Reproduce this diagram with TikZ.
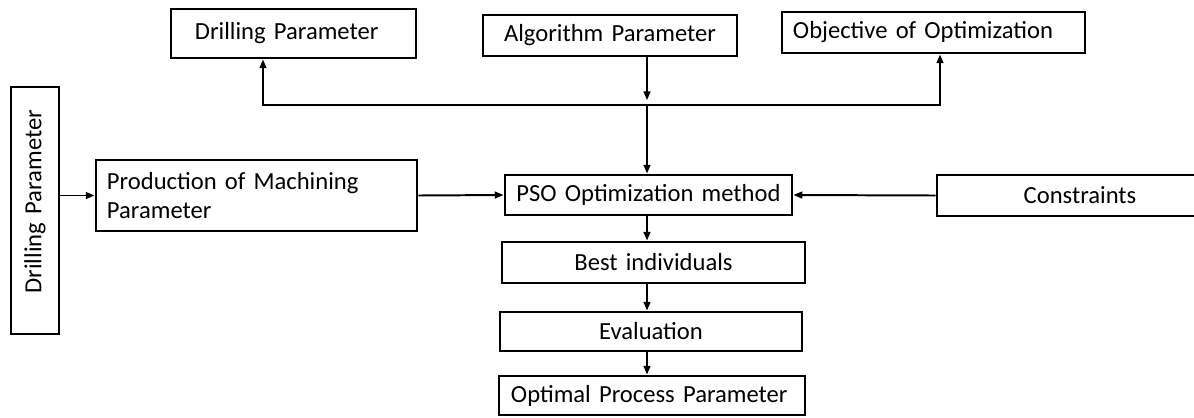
\documentclass[tikz,border=0pt]{standalone}
\usepackage{fontspec}
\setmainfont{Carlito}
\usetikzlibrary{arrows.meta}

\tikzset{
  blk/.style={draw, line width=2pt, inner ysep=0pt, align=center,
    font=\fontsize{17.5}{20}\selectfont},
  arr/.style={line width=1.4pt, -{Triangle[length=2.2mm,width=1.7mm]}},
  ln/.style={line width=1.4pt}
}

\begin{document}
\begin{tikzpicture}[x=0.025cm, y=-0.025cm]
        \useasboundingbox (0,0) rectangle (1194,417);

        % top row
        \node[blk, align=left, inner xsep=0.6cm, text width=4.925cm, minimum height=1.225cm] (drillTop) at (293.5,33.5) {Drilling Parameter};
        \node[blk, text width=6.15cm, inner xsep=0.1cm, minimum height=1.025cm] (algo) at (610,35.5) {Algorithm Parameter};
        \node[blk, align=left, inner xsep=0.275cm, text width=7.025cm, minimum height=1.025cm] (objective) at (933.5,32.5) {Objective of Optimization};

        % left side
        \node[blk, rotate=90, align=right, inner xsep=0.575cm, text width=5.025cm, minimum height=1.2cm] (drillLeft) at (35,210.5) {Drilling Parameter};
        \node[blk, align=left, inner xsep=0.275cm, text width=7.475cm, minimum height=1.775cm] (prod) at (256.5,195.5) {Production of Machining\\Parameter};

        % middle column
        \node[blk, text width=7.175cm, inner xsep=0pt, minimum height=1cm] (pso) at (648.5,195) {PSO Optimization method};
        \node[blk, text width=7.15cm, inner xsep=0pt, minimum height=1.025cm] (cons) at (1080,195.5) {Constraints};
        \node[blk, text width=7.575cm, inner xsep=0pt, minimum height=1.025cm] (best) at (653.5,262.5) {Best individuals};
        \node[blk, text width=7.55cm, inner xsep=0pt, minimum height=0.975cm] (eval) at (651,331.5) {Evaluation};
        \node[blk, align=left, inner xsep=0.3cm, text width=7.05cm, minimum height=0.975cm] (opt) at (652,395.5) {Optimal Process Parameter};

        % junction points
        \coordinate (jn) at (647,105);
        \coordinate (jl) at (263,105);
        \coordinate (jr) at (940,105);

        % Draw the connectors
        \draw[arr] (jn |- algo.south) -- ([yshift=0.12cm]jn);
        \draw[arr] (jn) -- (jl) -- (jl |- drillTop.south);
        \draw[arr] (jn) -- (jr) -- (jr |- objective.south);
        \draw[arr] (jn) -- (jn |- pso.north);
        \draw[arr] (drillLeft.south |- prod.west) -- (prod.west);
        \draw[arr] (prod.east) -- (pso.west);
        \draw[arr] (cons.west) -- (pso.east);
        \draw[arr] (jn |- pso.south) -- (jn |- best.north);
        \draw[arr] (jn |- best.south) -- (jn |- eval.north);
        \draw[arr] (jn |- eval.south) -- (jn |- opt.north);
    \end{tikzpicture}
\end{document}
